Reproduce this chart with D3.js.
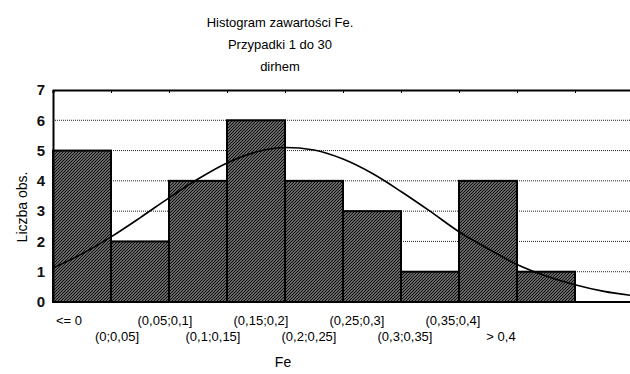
<!DOCTYPE html>
<html>
<head>
<meta charset="utf-8">
<script src="https://cdn.jsdelivr.net/npm/d3@7"></script>
<style>
  html, body { margin: 0; padding: 0; background: #fff; }
  svg { display: block; font-family: "Liberation Sans", Arial, sans-serif; }
</style>
</head>
<body>
<div id="chart"></div>
<script>
// Histogram data
const categories = ['<= 0', '(0;0,05]', '(0,05;0,1]', '(0,1;0,15]', '(0,15;0,2]',
  '(0,2;0,25]', '(0,25;0,3]', '(0,3;0,35]', '(0,35;0,4]', '> 0,4'];
const counts = [5, 2, 4, 6, 4, 3, 1, 4, 1, 0];

// fitted normal curve (Fe value -> expected count)
const curveFe = [-0.05, -0.025, 0, 0.025, 0.05, 0.075, 0.1, 0.125, 0.15, 0.175, 0.2,
  0.225, 0.25, 0.275, 0.3, 0.325, 0.35, 0.375, 0.4, 0.425, 0.45];
const curveCount = [1.12, 1.59, 2.15, 2.78, 3.44, 4.06, 4.59, 4.95, 5.10, 5.02, 4.72,
  4.25, 3.65, 3.00, 2.32, 1.76, 1.24, 0.86, 0.57, 0.35, 0.21];

const yTicks = [0, 1, 2, 3, 4, 5, 6, 7];
const titleLines = ['Histogram zawartości Fe.', 'Przypadki 1 do 30', 'dirhem'];

const width = 630, height = 374;
const margin = { top: 90, left: 53 };
const innerW = 580, innerH = 212;

const svg = d3.select('#chart').append('svg')
  .attr('width', width)
  .attr('height', height);

// hatch fill for the bars: dense "/" lines on grey
const defs = svg.append('defs');
const pat = defs.append('pattern')
  .attr('id', 'hatch')
  .attr('patternUnits', 'userSpaceOnUse')
  .attr('width', 3)
  .attr('height', 3);
pat.append('rect').attr('width', 3).attr('height', 3).attr('fill', '#a8a8a8');
pat.append('path')
  .attr('d', 'M-1,1 L1,-1 M0,3 L3,0 M2,4 L4,2')
  .attr('stroke', '#111')
  .attr('stroke-width', 1.3);

const g = svg.append('g').attr('transform', `translate(${margin.left},${margin.top})`);

const x = d3.scaleBand().domain(categories).range([0, innerW]).padding(0);
const y = d3.scaleLinear().domain([0, 7]).range([innerH, 0]);
// continuous Fe scale aligned with the bins: bin 1 = (0;0,05]
const xFe = d3.scaleLinear().domain([-0.05, 0.45]).range([0, innerW]);

// dotted gridlines
g.append('g')
  .selectAll('line')
  .data(yTicks.filter(d => d > 0 && d < 7))
  .join('line')
  .attr('x1', 0)
  .attr('x2', innerW)
  .attr('y1', d => y(d))
  .attr('y2', d => y(d))
  .attr('stroke', '#222')
  .attr('stroke-width', 1)
  .attr('stroke-dasharray', '1,1');

// bars
g.append('g')
  .selectAll('rect')
  .data(categories.map((c, i) => ({ c, v: counts[i] })).filter(d => d.v > 0))
  .join('rect')
  .attr('x', d => x(d.c))
  .attr('y', d => y(d.v))
  .attr('width', x.bandwidth())
  .attr('height', d => innerH - y(d.v))
  .attr('fill', 'url(#hatch)')
  .attr('stroke', '#000')
  .attr('stroke-width', 2);

// normal curve
const line = d3.line()
  .x((d, i) => xFe(curveFe[i]))
  .y(d => y(d))
  .curve(d3.curveMonotoneX);
g.append('path')
  .datum(curveCount)
  .attr('d', line)
  .attr('fill', 'none')
  .attr('stroke', '#000')
  .attr('stroke-width', 1.6);

// frame: top, left, bottom lines
const boundaries = d3.range(categories.length + 1).map(i => i * x.step());
const topAxis = d3.axisTop(d3.scaleLinear().domain([0, innerW]).range([0, innerW]))
  .tickValues(boundaries.slice(1))
  .tickSize(-3)
  .tickFormat('');
g.append('g').call(topAxis)
  .call(s => s.select('.domain').attr('stroke', '#000').attr('stroke-width', 2));
g.append('line')
  .attr('x1', 0).attr('x2', innerW)
  .attr('y1', innerH).attr('y2', innerH)
  .attr('stroke', '#000').attr('stroke-width', 2);

const yAxis = d3.axisLeft(y).tickValues(yTicks).tickSize(0).tickPadding(8)
  .tickFormat(d3.format('d'));
g.append('g').call(yAxis)
  .call(s => s.select('.domain').attr('stroke', '#000').attr('stroke-width', 2))
  .call(s => s.selectAll('text')
    .attr('font-size', 15)
    .attr('font-weight', 'bold')
    .attr('fill', '#111')
    .attr('font-family', '"Liberation Sans", Arial, sans-serif'));

// category labels (staggered, placed on their own band scale)
const xLab = d3.scaleBand().domain(categories).range([45, 525]);
const labAxis = d3.axisBottom(xLab).tickSize(0).tickPadding(0);
svg.append('g')
  .attr('transform', `translate(0,${margin.top + innerH})`)
  .call(labAxis)
  .call(s => s.select('.domain').remove())
  .call(s => s.selectAll('text')
    .attr('font-size', 13)
    .attr('fill', '#000')
    .attr('font-family', '"Liberation Sans", Arial, sans-serif')
    .attr('dy', null)
    .attr('y', (d, i) => i % 2 === 0 ? 23 : 39));

// titles
svg.append('g')
  .selectAll('text')
  .data(titleLines)
  .join('text')
  .attr('x', 280)
  .attr('y', (d, i) => 27 + i * 22)
  .attr('text-anchor', 'middle')
  .attr('font-size', 13)
  .attr('fill', '#000')
  .text(d => d);

svg.append('text')
  .attr('x', 283)
  .attr('y', 367)
  .attr('text-anchor', 'middle')
  .attr('font-size', 14)
  .attr('fill', '#000')
  .text('Fe');

svg.append('text')
  .attr('transform', 'translate(27,207) rotate(-90)')
  .attr('text-anchor', 'middle')
  .attr('font-size', 14)
  .attr('fill', '#000')
  .text('Liczba obs.');
</script>
</body>
</html>
